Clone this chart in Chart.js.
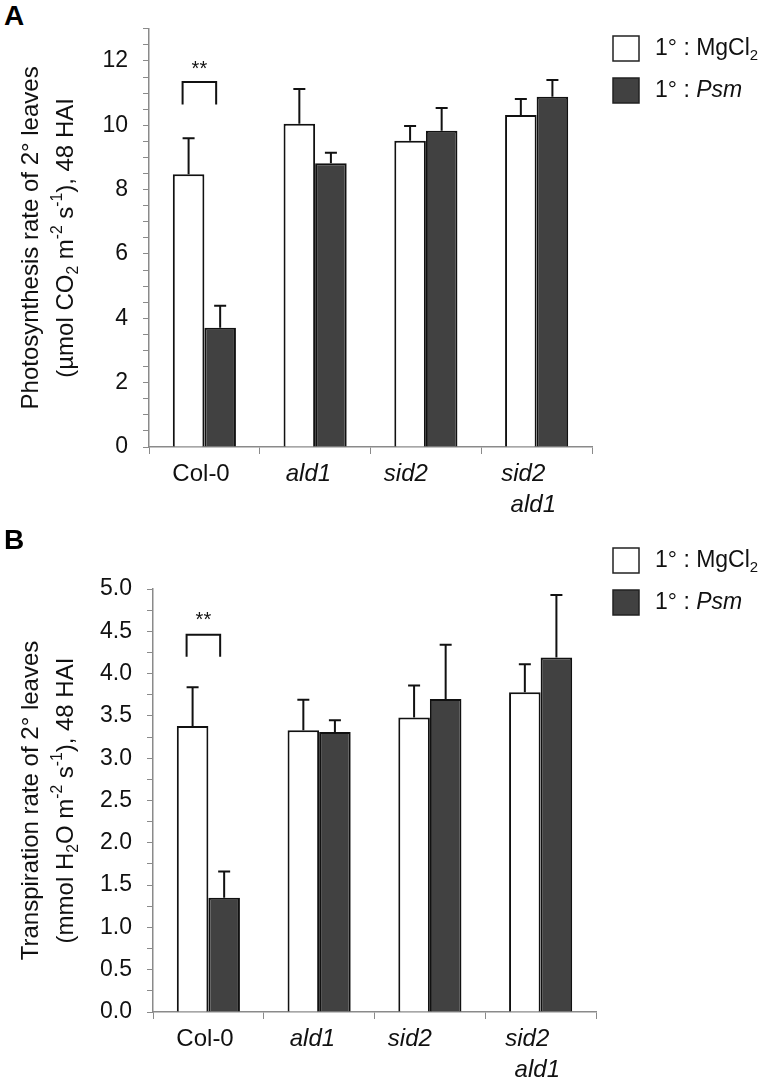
<!DOCTYPE html>
<html>
<head>
<meta charset="utf-8">
<script src="https://cdn.jsdelivr.net/npm/chart.js@4.4.1/dist/chart.umd.min.js"></script>
<style>
  html, body { margin: 0; padding: 0; background: #fff; }
  #wrap { position: relative; width: 768px; height: 1080px; }
  .panel { position: absolute; left: 0; width: 768px; height: 540px; }
  .tag { position: absolute; left: 4px; font: bold 28px 'Liberation Sans', Arial, sans-serif; color: #000; }
</style>
</head>
<body>
<div id="wrap">
  <div class="tag" style="top: 0px;">A</div>
  <div class="panel" style="top: 0;"><canvas id="chartA" width="768" height="540"></canvas></div>
  <div class="tag" style="top: 524px;">B</div>
  <div class="panel" style="top: 540px;"><canvas id="chartB" width="768" height="540"></canvas></div>
</div>
<script>
const FONT = "'Liberation Sans', Arial, sans-serif";

// trailing spaces nudge the labels left, as in the original figure
const genotypes = ['Col-0 ', 'ald1  ', 'sid2      ', ['sid2    ', 'ald1 ']];
const seriesNames = ['MgCl2', 'Psm'];

// panel A: photosynthesis
const photoMgCl2 = [8.48, 10.05, 9.52, 10.32];
const photoMgCl2Err = [1.12, 1.08, 0.46, 0.50];
const photoPsm = [3.71, 8.82, 9.83, 10.89];
const photoPsmErr = [0.68, 0.33, 0.71, 0.52];

// panel B: transpiration
const transMgCl2 = [3.38, 3.33, 3.48, 3.78];
const transMgCl2Err = [0.46, 0.36, 0.38, 0.33];
const transPsm = [1.35, 3.31, 3.70, 4.19];
const transPsmErr = [0.31, 0.14, 0.64, 0.74];

// significance bracket (top, legs, stars) over Col-0
const sigA = [11.35, 10.65, 11.87];
const sigB = [4.46, 4.20, 4.67];

// draw a run of text pieces, some sub/superscript, some italic
function drawRich(ctx, parts, x, y, size) {
    const widths = parts.map(p => {
        const s = p.sub || p.sup ? size * 0.65 : size;
        ctx.font = (p.it ? 'italic ' : '') + s + 'px ' + FONT;
        return ctx.measureText(p.t).width;
    });
    const total = widths.reduce((a, b) => a + b, 0);
    let cx = x - total / 2;
    parts.forEach((p, i) => {
        const s = p.sub || p.sup ? size * 0.65 : size;
        ctx.font = (p.it ? 'italic ' : '') + s + 'px ' + FONT;
        let dy = 0;
        if (p.sub) dy = size * 0.3;
        if (p.sup) dy = -size * 0.35;
        ctx.fillText(p.t, cx, y + dy);
        cx += widths[i];
    });
}

function drawLeft(ctx, parts, x, y, size) {
    ctx.save();
    ctx.textAlign = 'left';
    ctx.textBaseline = 'middle';
    const w = parts.reduce((acc, p) => {
        const s = p.sub || p.sup ? size * 0.65 : size;
        ctx.font = (p.it ? 'italic ' : '') + s + 'px ' + FONT;
        return acc + ctx.measureText(p.t).width;
    }, 0);
    drawRich(ctx, parts, x + w / 2, y, size);
    ctx.restore();
}

const decor = {
    id: 'decor',
    afterDatasetsDraw(chart, args, opts) {
        const ctx = chart.ctx;
        const ys = chart.scales.y;
        const area = chart.chartArea;

        // error bars (upper only)
        ctx.save();
        ctx.strokeStyle = '#111';
        ctx.lineWidth = 2;
        chart.data.datasets.forEach((ds, di) => {
            const meta = chart.getDatasetMeta(di);
            meta.data.forEach((bar, i) => {
                const yTop = ys.getPixelForValue(ds.data[i] + opts.errors[di][i]);
                ctx.beginPath();
                ctx.moveTo(bar.x, bar.y);
                ctx.lineTo(bar.x, yTop);
                ctx.moveTo(bar.x - 6, yTop);
                ctx.lineTo(bar.x + 6, yTop);
                ctx.stroke();
            });
        });

        // bracket + stars
        const b0 = chart.getDatasetMeta(0).data[0];
        const b1 = chart.getDatasetMeta(1).data[0];
        const xl = b0.x - 6, xr = b1.x - 4;
        const yt = ys.getPixelForValue(opts.sig[0]);
        const yl = ys.getPixelForValue(opts.sig[1]);
        ctx.beginPath();
        ctx.moveTo(xl, yl);
        ctx.lineTo(xl, yt);
        ctx.lineTo(xr, yt);
        ctx.lineTo(xr, yl);
        ctx.stroke();
        ctx.fillStyle = '#111';
        ctx.font = '20px ' + FONT;
        ctx.textAlign = 'center';
        ctx.textBaseline = 'middle';
        ctx.fillText('**', (xl + xr) / 2, ys.getPixelForValue(opts.sig[2]) + 4);
        ctx.restore();

        // y title, rotated
        ctx.save();
        ctx.fillStyle = '#111';
        ctx.textAlign = 'left';
        ctx.textBaseline = 'middle';
        const cy = (area.top + area.bottom) / 2;
        ctx.translate(0, cy);
        ctx.rotate(-Math.PI / 2);
        drawRich(ctx, opts.title[0], 0, 31, 24);
        drawRich(ctx, opts.title[1], 0, 66, 24);
        ctx.restore();

        // legend
        ctx.save();
        ctx.lineWidth = 1.5;
        ctx.strokeStyle = '#222';
        chart.data.datasets.forEach((ds, di) => {
            const top = opts.legendTop + di * opts.legendGap;
            ctx.fillStyle = ds.backgroundColor;
            ctx.fillRect(613, top, 26, 25);
            ctx.strokeRect(613, top, 26, 25);
            ctx.fillStyle = '#111';
            const parts = di === 0
                ? [{ t: '1° : MgCl' }, { t: '2', sub: true }]
                : [{ t: '1° : ' }, { t: 'Psm', it: true }];
            drawLeft(ctx, parts, 655, top + 13, 23);
        });
        ctx.restore();
    }
};

function makeChart(id, cfg) {
    const ctx = document.getElementById(id).getContext('2d');
    return new Chart(ctx, {
        type: 'bar',
        data: {
            labels: genotypes,
            datasets: [{
                label: seriesNames[0],
                data: cfg.white,
                backgroundColor: '#ffffff',
                borderColor: '#111',
                borderWidth: 2,
                categoryPercentage: 0.57,
                barPercentage: 1.0
            }, {
                label: seriesNames[1],
                data: cfg.dark,
                backgroundColor: '#414141',
                borderColor: '#111',
                borderWidth: 2,
                categoryPercentage: 0.57,
                barPercentage: 1.0
            }]
        },
        options: {
            responsive: false,
            animation: false,
            layout: { padding: cfg.padding },
            plugins: {
                legend: { display: false },
                tooltip: { enabled: false },
                decor: {
                    errors: [cfg.whiteErr, cfg.darkErr],
                    sig: cfg.sig,
                    title: cfg.title,
                    legendTop: cfg.legendTop,
                    legendGap: 42
                }
            },
            scales: {
                x: {
                    afterFit: s => { s.height = cfg.xHeight; },
                    grid: { drawOnChartArea: false, tickLength: 7, color: '#8a8a8a', offset: true },
                    border: { color: '#8a8a8a', width: 1.5 },
                    ticks: {
                        color: '#111',
                        padding: 5,
                        maxRotation: 0,
                        font: c => ({ family: FONT, size: 24, style: c.index === 0 ? 'normal' : 'italic', lineHeight: 1.3 })
                    }
                },
                y: {
                    min: 0,
                    max: cfg.max,
                    afterFit: s => { s.width = cfg.yWidth; },
                    grid: { drawOnChartArea: false, tickLength: 6, color: '#8a8a8a' },
                    border: { color: '#8a8a8a', width: 1.5 },
                    ticks: {
                        stepSize: cfg.step,
                        autoSkip: false,
                        color: '#111',
                        padding: 15,
                        font: { family: FONT, size: 23 },
                        callback: cfg.tickLabel
                    }
                }
            }
        },
        plugins: [decor]
    });
}

makeChart('chartA', {
    white: photoMgCl2, whiteErr: photoMgCl2Err,
    dark: photoPsm, darkErr: photoPsmErr,
    sig: sigA,
    max: 13, step: 0.5,
    tickLabel: v => (Math.abs(v % 2) < 1e-6 ? String(v) : ''),
    padding: { top: 24, left: 0, right: 176, bottom: 0 },
    yWidth: 149, xHeight: 93,
    legendTop: 36,
    title: [
        [{ t: 'Photosynthesis rate of 2° leaves' }],
        [{ t: '(µmol CO' }, { t: '2', sub: true }, { t: ' m' }, { t: '-2', sup: true }, { t: ' s' }, { t: '-1', sup: true }, { t: '), 48 HAI' }]
    ]
});

makeChart('chartB', {
    white: transMgCl2, whiteErr: transMgCl2Err,
    dark: transPsm, darkErr: transPsmErr,
    sig: sigB,
    max: 5, step: 0.25,
    tickLabel: v => (Math.abs((v * 2) % 1) < 1e-6 ? v.toFixed(1) : ''),
    padding: { top: 49, left: 0, right: 172, bottom: 0 },
    yWidth: 153, xHeight: 68,
    legendTop: 8,
    title: [
        [{ t: 'Transpiration rate of 2° leaves' }],
        [{ t: '(mmol H' }, { t: '2', sub: true }, { t: 'O m' }, { t: '-2', sup: true }, { t: ' s' }, { t: '-1', sup: true }, { t: '), 48 HAI' }]
    ]
});
</script>
</body>
</html>
